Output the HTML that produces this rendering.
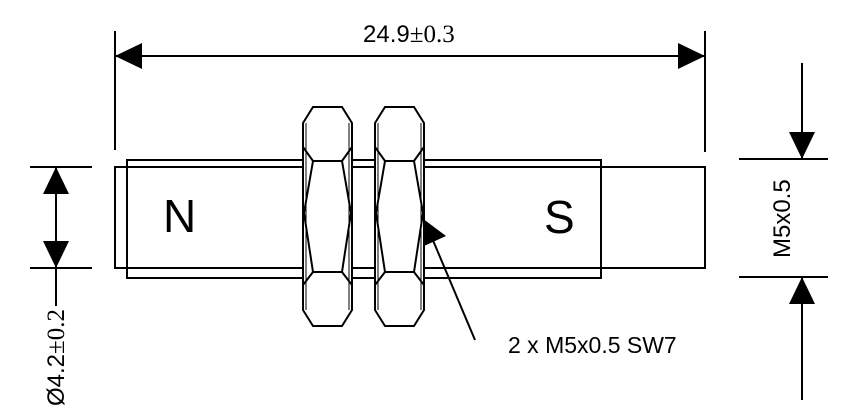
<!DOCTYPE html>
<html><head><meta charset="utf-8"><style>html,body{margin:0;padding:0;background:#fff}svg{display:block}</style></head>
<body>
<svg width="862" height="416" viewBox="0 0 862 416" xmlns="http://www.w3.org/2000/svg" font-family="Liberation Sans, sans-serif">
<g stroke="#000" stroke-width="2" fill="none">
<line x1="115" y1="31" x2="115" y2="150"/>
<line x1="705" y1="31" x2="705" y2="152"/>
<line x1="115" y1="56" x2="705" y2="56"/>
<rect x="115" y="167" width="590" height="101"/>
<rect x="127" y="160" width="474" height="118"/>
<line x1="30" y1="167" x2="92" y2="167"/>
<line x1="30" y1="268" x2="92" y2="268"/>
<line x1="56" y1="167" x2="56" y2="306"/>
<line x1="739" y1="159" x2="828" y2="159"/>
<line x1="739" y1="277" x2="828" y2="277"/>
<line x1="802" y1="63" x2="802" y2="159"/>
<line x1="802" y1="277" x2="802" y2="400"/>
<line x1="475" y1="340" x2="432" y2="238"/>
</g>
<g fill="#000">
<polygon points="115,56 142,43 142,69"/>
<polygon points="705,56 678,43 678,69"/>
<polygon points="56,167 43,194 69,194"/>
<polygon points="56,268 43,241 69,241"/>
<polygon points="802,159 789,132 815,132"/>
<polygon points="802,277 789,304 815,304"/>
<polygon points="422,218 446,236 424,246"/>
</g>
<g stroke="#000" stroke-width="2" fill="#fff">
<g id="nut">
<polygon points="313,107 342,107 352,123 352,310 342,326 313,326 303,310 303,123"/>
<polyline fill="none" points="303,147 313,161 342,161 352,147"/>
<polyline fill="none" points="303,285 313,272 342,272 352,285"/>
<polyline fill="none" points="313,161 304,213 313,272"/>
<polyline fill="none" points="342,161 351,213 342,272"/>
<line x1="306" y1="123" x2="306" y2="310" stroke-width="1"/>
<line x1="349" y1="123" x2="349" y2="310" stroke-width="1"/>
</g>
<use href="#nut" transform="translate(72,0)"/>
</g>
<text x="163" y="232" font-size="46">N</text>
<text x="544" y="233" font-size="46">S</text>
<text x="363" y="42" font-size="24">24.9<tspan font-family="Liberation Serif, serif" font-size="25">±0.3</tspan></text>
<text x="508" y="353" font-size="23">2 x M5x0.5 SW7</text>
<text transform="translate(64,406) rotate(-90)" font-size="24">Ø4.2<tspan font-family="Liberation Serif, serif" font-size="25">±0.2</tspan></text>
<text transform="translate(790,258) rotate(-90)" font-size="24">M5x0.5</text>
</svg>
</body></html>
